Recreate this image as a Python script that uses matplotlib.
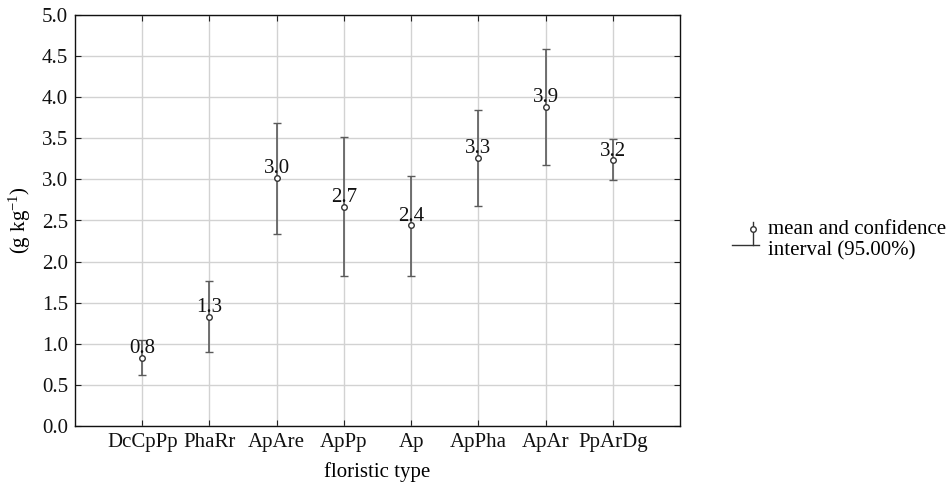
import matplotlib
matplotlib.use("Agg")
import matplotlib.pyplot as plt
from matplotlib.lines import Line2D
from matplotlib.legend_handler import HandlerBase

plt.rcParams['font.family'] = ['Liberation Serif', 'DejaVu Serif']
plt.rcParams['mathtext.fontset'] = 'custom'
plt.rcParams['mathtext.rm'] = 'Liberation Serif'
plt.rcParams['mathtext.it'] = 'Liberation Serif:italic'

categories = ["DcCpPp", "PhaRr", "ApAre", "ApPp", "Ap", "ApPha", "ApAr", "PpArDg"]
means = [0.83, 1.33, 3.02, 2.66, 2.44, 3.26, 3.88, 3.23]
ci_low = [0.62, 0.90, 2.34, 1.82, 1.83, 2.68, 3.18, 2.99]
ci_high = [1.05, 1.77, 3.69, 3.51, 3.04, 3.85, 4.59, 3.49]
labels = ["0.8", "1.3", "3.0", "2.7", "2.4", "3.3", "3.9", "3.2"]
yticks = [0.0, 0.5, 1.0, 1.5, 2.0, 2.5, 3.0, 3.5, 4.0, 4.5, 5.0]

FS = 15

fig = plt.figure(figsize=(9.53, 4.86), dpi=100)
ax = fig.add_axes([75/953, 60/486, 605/953, 411/486])

x = list(range(len(categories)))
yerr = [[m - lo for m, lo in zip(means, ci_low)], [hi - m for m, hi in zip(means, ci_high)]]
ecol = '#5a5a5a'
eb = ax.errorbar(x, means, yerr=yerr, fmt='o', ms=4, mfc='white', mec='#333333', mew=1.0,
                 ecolor=ecol, elinewidth=1.2, capsize=3, capthick=1.0, zorder=3)

for xi, m, lab in zip(x, means, labels):
    ax.annotate(lab, (xi, m), xytext=(0, 3.5), textcoords='offset points',
                ha='center', va='baseline', fontsize=FS, color='#111111', zorder=4)

ax.set_xlim(-1, len(categories))
ax.set_ylim(0, 5)
ax.set_xticks(x)
ax.set_xticklabels(categories)
ax.set_yticks(yticks)
ax.set_yticklabels([f"{t:.1f}" for t in yticks])
ax.tick_params(direction='in', length=4, width=0.8, labelsize=FS, top=True, right=True,
               colors='#222222', labelcolor='#111111', pad=5)
ax.grid(True, color='#d2d2d2', linewidth=1.0, zorder=0)
ax.set_axisbelow(True)
for s in ax.spines.values():
    s.set_linewidth(1.0)
    s.set_color('#111111')

ax.set_xlabel("floristic type", fontsize=FS, labelpad=7)
ax.set_ylabel(r"(g kg$^{\mathrm{-1}}$)", fontsize=FS, labelpad=6)


class CIHandler(HandlerBase):
    def create_artists(self, legend, orig_handle, xdescent, ydescent, width, height, fontsize, trans):
        x0 = -xdescent
        cx = x0 + width * 0.8
        y0 = -ydescent
        hline = Line2D([x0, x0 + width], [y0 + 0.14 * height] * 2, color='#333333', lw=1.0, transform=trans)
        vline = Line2D([cx, cx], [y0 + 0.14 * height, y0 + 1.75 * height], color='#333333', lw=1.0,
                       transform=trans)
        mk = Line2D([cx], [y0 + 1.23 * height], marker='o', ms=4, mfc='white', mec='#333333',
                    mew=1.0, ls='none', transform=trans)
        return [hline, vline, mk]


proxy = Line2D([], [])
leg = fig.legend([proxy], ["mean and confidence\ninterval (95.00%)"], handler_map={Line2D: CIHandler()},
                 loc='upper left', bbox_to_anchor=(713/953, 1 - 201/486), frameon=False,
                 fontsize=FS, handlelength=1.3, handletextpad=0.45, labelspacing=0.2)

fig.savefig("out.png", dpi=100)
